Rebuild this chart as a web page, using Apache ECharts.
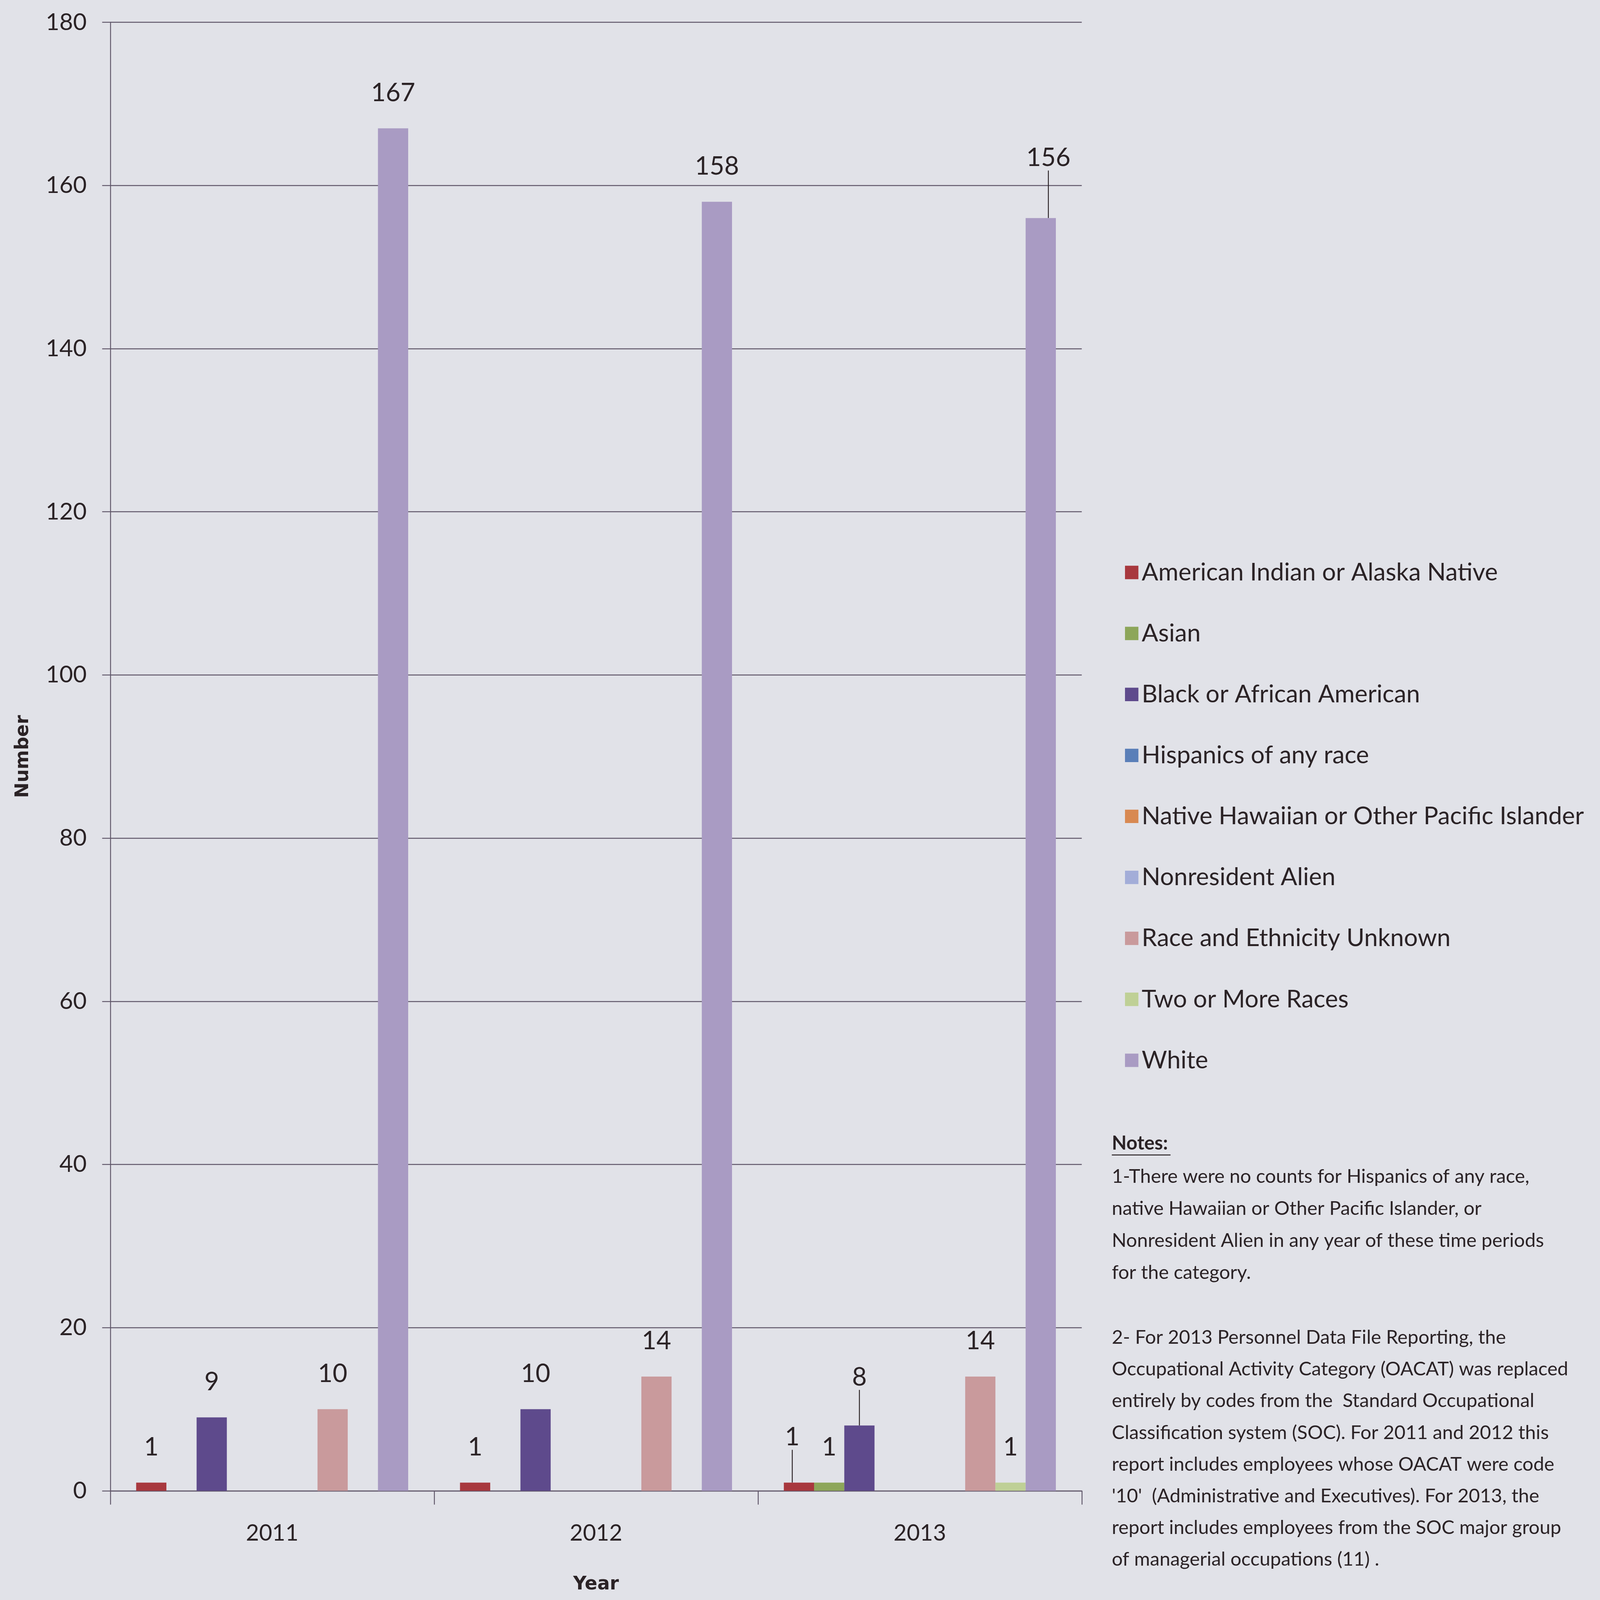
<!DOCTYPE html>
<html>
<head>
<meta charset="utf-8">
<script src="https://cdn.jsdelivr.net/npm/echarts@6/dist/echarts.min.js"></script>
<style>
html,body{margin:0;padding:0;background:#E1E2E8;overflow:hidden;}
#chart{width:100vw;height:100vh;}
</style>
</head>
<body>
<div id="chart"></div>
<script>
// ---- data ----
const years = ['2011', '2012', '2013'];
const seriesNames = [
  'American Indian or Alaska Native',
  'Asian',
  'Black or African American',
  'Hispanics of any race',
  'Native Hawaiian or Other Pacific Islander',
  'Nonresident Alien',
  'Race and Ethnicity Unknown',
  'Two or More Races',
  'White'
];
const americanIndian = [1, 1, 1];
const asian = [0, 0, 1];
const black = [9, 10, 8];
const hispanic = [0, 0, 0];
const nativeHawaiian = [0, 0, 0];
const nonresident = [0, 0, 0];
const unknown = [10, 14, 14];
const twoOrMore = [0, 0, 1];
const white = [167, 158, 156];
const yTickLabels = ['0', '20', '40', '60', '80', '100', '120', '140', '160', '180'];

const notesTitle = 'Notes:';
const notes1 = [
  '1-There were no counts for Hispanics of any race,',
  'native Hawaiian or Other Pacific Islander, or',
  'Nonresident Alien in any year of these time periods',
  'for the category.'
];
const notes2 = [
  '2- For 2013 Personnel Data File Reporting, the',
  'Occupational Activity Category (OACAT) was replaced',
  'entirely by codes from the  Standard Occupational',
  'Classification system (SOC). For 2011 and 2012 this',
  'report includes employees whose OACAT were code',
  "'10'  (Administrative and Executives). For 2013, the",
  'report includes employees from the SOC major group',
  'of managerial occupations (11) .'
];

// ---- layout (reference is 6922 x 5098; scale to the actual window) ----
const W = window.innerWidth, H = window.innerHeight;
const sx = W / 6922, sy = H / 5098, fs = sx;
const X = v => v * sx, Y = v => v * sy, F = v => v * fs;

const colors = ['#A8383E', '#8DA65A', '#5E4A8C', '#5A7FB8', '#D88952', '#A3ADD8', '#C99A9C', '#BFD096', '#A99BC3'];
const allValues = [americanIndian, asian, black, hispanic, nativeHawaiian, nonresident, unknown, twoOrMore, white];
const txt = '#2B2326';
const gridColor = '#5F5668';
const FONT = 'Lato';
const lw = Math.max(2, 4 * fs);

// text width helper to fit long texts into the reference widths
const cv = document.createElement('canvas').getContext('2d');
function fitSize(lines, weight, targetW) {
  cv.font = weight + ' 100px ' + FONT;
  let w = 0;
  lines.forEach(l => { w = Math.max(w, cv.measureText(l).width); });
  return 100 * targetW / w;
}
const legendFont = fitSize(['Native Hawaiian or Other Pacific Islander'], 'normal', X(1913));
const notesFont = fitSize(notes2.concat(notes1), 'normal', X(1975));

// label shifts with leader lines: [seriesIndex, dataIndex, dx, dy] in reference pixels
const shifted = [[0, 2, -29, -32], [2, 2, 0, -41], [8, 2, 33, -79]];
function findShift(si, di) {
  for (const s of shifted) if (s[0] === si && s[1] === di) return s;
  return null;
}

const valueFont = F(110);
const series = allValues.map((vals, si) => ({
  name: seriesNames[si],
  type: 'bar',
  barGap: '0%',
  barCategoryGap: '16%',
  itemStyle: { color: colors[si] },
  label: {
    show: true,
    position: 'top',
    distance: Math.max(2, Y(113) - valueFont / 2),
    color: txt,
    fontFamily: FONT,
    fontSize: valueFont,
    formatter: p => (p.value === 0 ? '' : String(p.value))
  },
  labelLine: { show: false, lineStyle: { color: txt, width: lw } },
  labelLayout: function (params) {
    const s = findShift(params.seriesIndex, params.dataIndex);
    return s ? { dx: X(s[2]), dy: Y(s[3]) } : {};
  },
  data: vals.map((v, di) => findShift(si, di)
    ? { value: v, labelLine: { show: true, lineStyle: { color: txt, width: lw } } }
    : v)
}));

const legendItemH = F(110);
const graphics = [
  {
    type: 'text', x: X(4810), y: Y(3643),
    style: { text: notesTitle, fill: txt, fontFamily: FONT, fontWeight: 'bold', fontSize: notesFont, textVerticalAlign: 'middle' }
  },
  {
    type: 'line',
    shape: { x1: X(4810), y1: Y(3680), x2: X(5064), y2: Y(3680) },
    style: { stroke: txt, lineWidth: lw }
  }
];
notes1.forEach((line, i) => graphics.push({
  type: 'text', x: X(4810), y: Y(3749 + i * 102),
  style: { text: line, fill: txt, fontFamily: FONT, fontSize: notesFont, textVerticalAlign: 'middle' }
}));
notes2.forEach((line, i) => graphics.push({
  type: 'text', x: X(4810), y: Y(4262 + i * 101),
  style: { text: line, fill: txt, fontFamily: FONT, fontSize: notesFont, textVerticalAlign: 'middle' }
}));

const chart = echarts.init(document.getElementById('chart'), null, { renderer: 'canvas' });
chart.setOption({
  backgroundColor: '#E1E2E8',
  animation: false,
  color: colors,
  textStyle: { fontFamily: FONT },
  grid: { left: X(477), right: X(2242), top: Y(71), bottom: Y(348), containLabel: false },
  legend: {
    orient: 'vertical',
    left: X(4867),
    top: Y(1824) - legendItemH / 2,
    padding: 0,
    itemGap: Y(194.3) - legendItemH,
    itemWidth: F(58),
    itemHeight: F(58),
    icon: 'rect',
    data: seriesNames,
    selectedMode: false,
    textStyle: { color: txt, fontFamily: FONT, fontSize: legendFont, lineHeight: legendItemH, padding: [0, 0, 0, F(6)] }
  },
  xAxis: {
    type: 'category',
    data: years,
    name: 'Year',
    nameLocation: 'middle',
    nameGap: Y(300) - F(41),
    nameTextStyle: { color: txt, fontFamily: 'DejaVu Sans', fontWeight: 'bold', fontSize: F(80) },
    axisLine: { show: true, lineStyle: { color: gridColor, width: lw } },
    axisTick: { show: true, length: Y(44), lineStyle: { color: gridColor, width: lw } },
    axisLabel: { color: txt, fontFamily: FONT, fontSize: F(98), margin: Y(135) - F(49) },
    splitLine: { show: false }
  },
  yAxis: {
    type: 'value',
    min: 0,
    max: 180,
    interval: 20,
    name: 'Number',
    nameLocation: 'middle',
    nameGap: X(378) - F(41),
    nameTextStyle: { color: txt, fontFamily: 'DejaVu Sans', fontWeight: 'bold', fontSize: F(80) },
    axisLine: { show: true, lineStyle: { color: gridColor, width: lw } },
    axisTick: { show: true, length: X(35), lineStyle: { color: gridColor, width: lw } },
    axisLabel: {
      color: txt, fontFamily: FONT, fontSize: F(102), margin: X(102),
      formatter: v => yTickLabels[Math.round(v / 20)]
    },
    splitLine: { show: true, lineStyle: { color: gridColor, width: lw } }
  },
  graphic: graphics,
  series: series
});
window.addEventListener('resize', () => chart.resize());
</script>
</body>
</html>
